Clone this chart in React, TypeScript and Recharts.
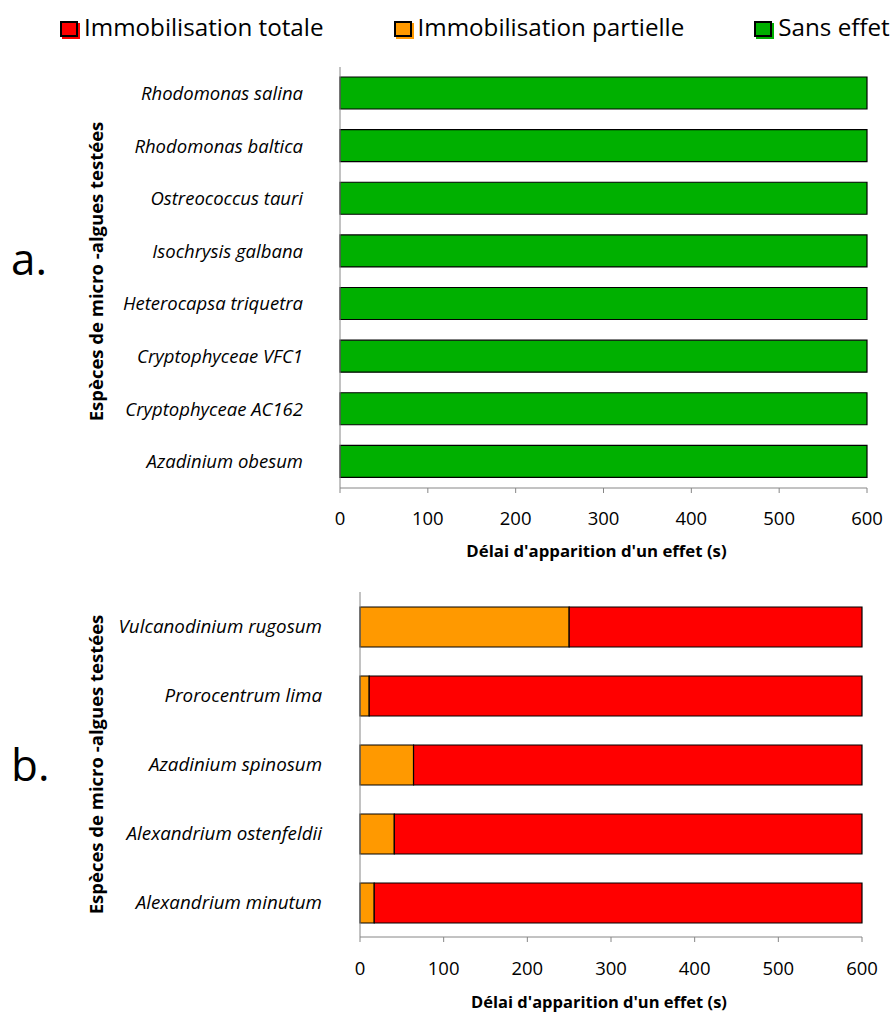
import { Bar, BarChart, Legend, XAxis, YAxis } from 'recharts';

// panel a: species with no effect
const speciesA = [
  'Rhodomonas salina',
  'Rhodomonas baltica',
  'Ostreococcus tauri',
  'Isochrysis galbana',
  'Heterocapsa triquetra',
  'Cryptophyceae VFC1',
  'Cryptophyceae AC162',
  'Azadinium obesum',
];
const sansEffetA = [600, 600, 600, 600, 600, 600, 600, 600];

// panel b: partial then total immobilisation (s)
const speciesB = [
  'Vulcanodinium rugosum',
  'Prorocentrum lima',
  'Azadinium spinosum',
  'Alexandrium ostenfeldii',
  'Alexandrium minutum',
];
const partielleB = [250, 11, 64, 41, 17];
const totaleB = [350, 589, 536, 559, 583];

const delayTicks = [0, 100, 200, 300, 400, 500, 600];

const legendItems = [
  { name: 'Immobilisation totale', color: '#ff0000' },
  { name: 'Immobilisation partielle', color: '#ff9900' },
  { name: 'Sans effet', color: '#00b000' },
];

const AXIS = '#868686';
const FONT = '"Open Sans", sans-serif';

const dataA = speciesA.map((name, i) => ({ name, sans: sansEffetA[i] }));
const dataB = speciesB.map((name, i) => ({ name, partielle: partielleB[i], totale: totaleB[i] }));

function LegendRow() {
  return (
    <div
      style={{
        display: 'flex',
        gap: 70,
        paddingLeft: 60,
        width: 896,
        boxSizing: 'border-box',
        fontSize: 24.2,
        lineHeight: '30px',
        color: '#000',
        whiteSpace: 'nowrap',
      }}
    >
      {legendItems.map((it) => (
        <div key={it.name} style={{ display: 'flex', alignItems: 'center', flexShrink: 0 }}>
          <span
            style={{
              width: 14,
              height: 12,
              marginTop: 3,
              border: '2px solid #000',
              background: it.color,
              boxShadow: `2px 2px 0 ${it.color}`,
              marginRight: 6,
              flexShrink: 0,
            }}
          />
          <span>{it.name}</span>
        </div>
      ))}
    </div>
  );
}

function sideTitle(letter: string, letterY: number, shift: number) {
  return ({ viewBox }: any) => {
    const cy = viewBox.y + viewBox.height / 2 + shift;
    return (
      <g>
        <text x={11} y={letterY} fontSize={44} fill="#000">
          {letter}
        </text>
        <text
          x={103}
          y={cy}
          transform={`rotate(-90, 103, ${cy})`}
          textAnchor="middle"
          fontSize={18.5}
          fontWeight="bold"
          fill="#000"
        >
          Espèces de micro -algues testées
        </text>
      </g>
    );
  };
}

function bottomTitle(dx: number, dy: number, size: number) {
  return ({ viewBox }: any) => (
    <text
      x={viewBox.x + viewBox.width / 2 + dx}
      y={viewBox.y + dy}
      textAnchor="middle"
      fontSize={size}
      fontWeight="bold"
      fill="#000"
    >
      Délai d'apparition d'un effet (s)
    </text>
  );
}

export default function App() {
  return (
    <div style={{ position: 'absolute', left: 0, top: 0, width: 896, height: 1012, background: '#fff', fontFamily: FONT }}>
      <div style={{ position: 'absolute', left: 0, top: 0 }}>
        <BarChart width={896} height={580} data={dataA} layout="vertical" margin={{ top: 67, right: 29, bottom: 12, left: 0 }}>
          <XAxis
            type="number"
            domain={[0, 600]}
            ticks={delayTicks}
            stroke={AXIS}
            tick={{ fill: '#000', fontSize: 18.5 }}
            tickSize={5}
            tickMargin={19}
            height={80}
            label={bottomTitle(-7, 69, 16.8)}
          />
          <YAxis
            type="category"
            dataKey="name"
            width={340}
            stroke={AXIS}
            tickLine={false}
            tickSize={0}
            tickMargin={37}
            interval={0}
            tick={{ fill: '#000', fontSize: 18.5, fontStyle: 'italic' }}
            label={sideTitle('a.', 275, -6)}
          />
          <Legend
            layout="vertical"
            verticalAlign="middle"
            align="center"
            content={<LegendRow />}
            wrapperStyle={{ top: 12, left: 0, width: 896 }}
          />
          <Bar dataKey="sans" fill="#00b000" stroke="#000" strokeWidth={1.2} barSize={32} isAnimationActive={false} />
        </BarChart>
      </div>
      <div style={{ position: 'absolute', left: 0, top: 580 }}>
        <BarChart width={896} height={432} data={dataB} layout="vertical" margin={{ top: 12, right: 34, bottom: 5, left: 0 }}>
          <XAxis
            type="number"
            domain={[0, 600]}
            ticks={delayTicks}
            stroke={AXIS}
            tick={{ fill: '#000', fontSize: 18.5 }}
            tickSize={5}
            tickMargin={20}
            height={70}
            label={bottomTitle(-12, 71, 16.5)}
          />
          <YAxis
            type="category"
            dataKey="name"
            width={360}
            stroke={AXIS}
            tickLine={false}
            tickSize={0}
            tickMargin={38}
            interval={0}
            tick={{ fill: '#000', fontSize: 18.8, fontStyle: 'italic' }}
            label={sideTitle('b.', 201, 0)}
          />
          <Bar dataKey="partielle" stackId="b" fill="#ff9900" stroke="#000" strokeWidth={1.2} barSize={40} isAnimationActive={false} />
          <Bar dataKey="totale" stackId="b" fill="#ff0000" stroke="#000" strokeWidth={1.2} barSize={40} isAnimationActive={false} />
        </BarChart>
      </div>
    </div>
  );
}
